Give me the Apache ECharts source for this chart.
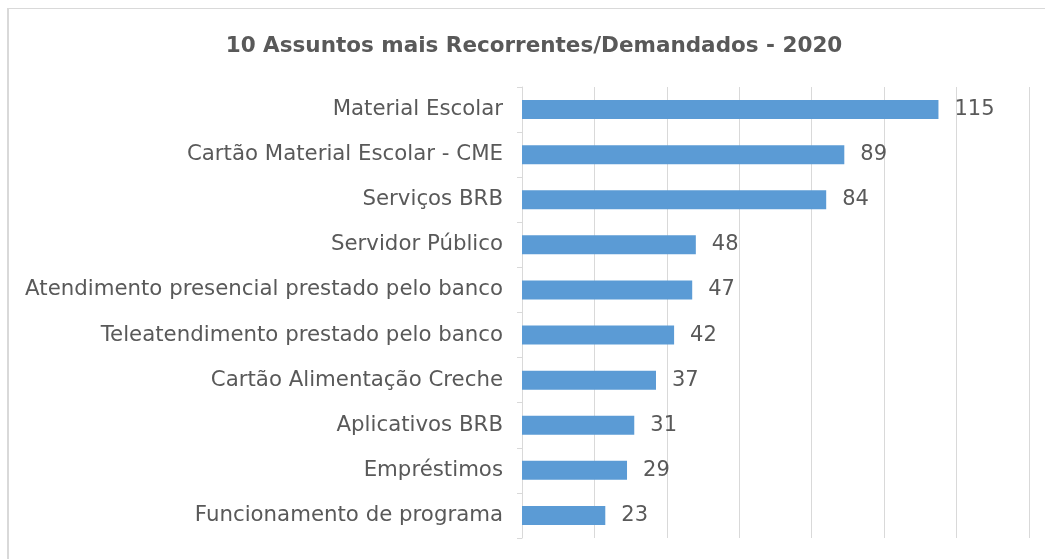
<!DOCTYPE html>
<html>
<head>
<meta charset="utf-8">
<script src="https://cdn.jsdelivr.net/npm/echarts@6/dist/echarts.min.js"></script>
<style>
  html, body { margin: 0; padding: 0; background: #fff; overflow: hidden; }
  #frame {
    position: absolute; left: 7px; top: 8px; width: 1100px; height: 600px;
    border-left: 2px solid #d9d9d9; border-top: 1px solid #d9d9d9;
  }
  #chart { position: absolute; left: 0; top: 0; width: 1045px; height: 559px; }
</style>
</head>
<body>
<div id="frame"></div>
<div id="chart"></div>
<script>
const categories = [
  "Material Escolar",
  "Cartão Material Escolar - CME",
  "Serviços BRB",
  "Servidor Público",
  "Atendimento presencial prestado pelo banco",
  "Teleatendimento prestado pelo banco",
  "Cartão Alimentação Creche",
  "Aplicativos BRB",
  "Empréstimos",
  "Funcionamento de programa"
];
const values = [115, 89, 84, 48, 47, 42, 37, 31, 29, 23];

const FONT = "'DejaVu Sans', sans-serif";

const chart = echarts.init(document.getElementById("chart"));

const option = {
  animation: false,
  textStyle: { fontFamily: FONT },
  title: {
    text: "10 Assuntos mais Recorrentes/Demandados - 2020",
    left: 529,
    textAlign: "center",
    top: 30,
    textStyle: { fontSize: 21.5, fontWeight: "bold", color: "#595959", fontFamily: FONT }
  },
  grid: { left: 522, right: 16, top: 87, bottom: 21, containLabel: false },
  xAxis: {
    type: "value",
    min: 0,
    max: 140,
    interval: 20,
    axisLabel: { show: false },
    axisLine: { show: false },
    axisTick: { show: false },
    splitLine: { lineStyle: { color: "#d9d9d9", width: 1 } }
  },
  yAxis: {
    type: "category",
    inverse: true,
    data: categories,
    axisLine: { lineStyle: { color: "#d9d9d9" } },
    axisTick: { show: true, length: 5, lineStyle: { color: "#d9d9d9" } },
    axisLabel: { color: "#595959", fontSize: 21.3, margin: 19, fontFamily: FONT }
  },
  series: [
    {
      type: "bar",
      data: values,
      barWidth: 19,
      itemStyle: { color: "#5b9bd5" },
      label: {
        show: true,
        position: "right",
        distance: 16,
        color: "#595959",
        fontSize: 21,
        fontFamily: FONT
      }
    }
  ]
};

chart.setOption(option);
</script>
</body>
</html>
